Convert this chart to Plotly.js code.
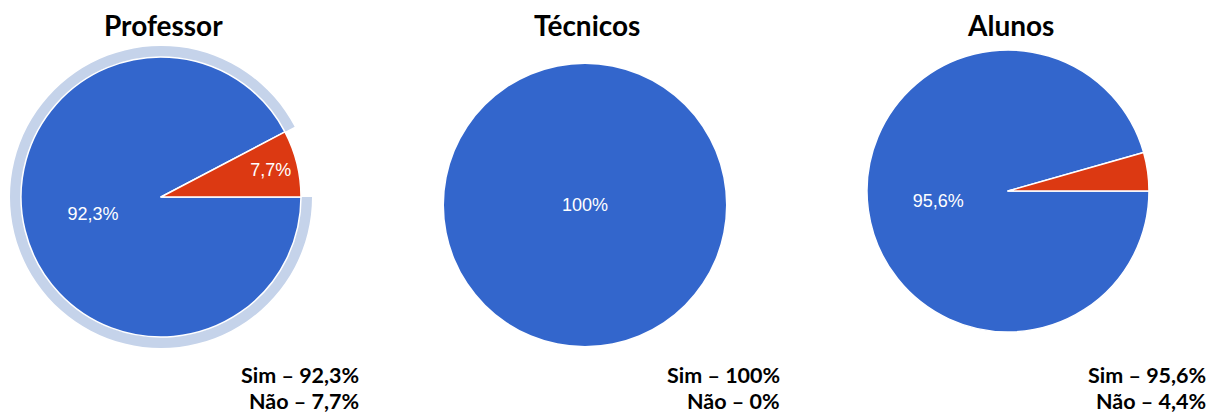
<!DOCTYPE html>
<html>
<head>
<meta charset="utf-8">
<script src="https://cdn.plot.ly/plotly-3.0.1.min.js"></script>
<style>
  html, body { margin: 0; padding: 0; background: #ffffff; }
  #chart { width: 1211px; height: 414px; }
</style>
</head>
<body>
<div id="chart"></div>
<script>
// ---- data ----
const groups = ['Professor', 'Técnicos', 'Alunos'];
const categories = ['Sim', 'Não'];
const simPct = [92.3, 100, 95.6];
const naoPct = [7.7, 0, 4.4];
const highlighted = [true, false, false]; // Professor pie shows the hover halo on "Sim"

// ---- helpers ----
const W = 1211, H = 414;
const fmt = v => String(v).replace('.', ',');
const sliceLabel = v => (v >= 5 ? fmt(v) + '%' : '');

// pie geometry in pixels (centre x, centre y, radius)
const pies = [
  { cx: 161, cy: 197, r: 140 },
  { cx: 585, cy: 205, r: 141 },
  { cx: 1008, cy: 191, r: 141 }
];
const titleX = [163.5, 587, 1010];
const summaryRight = [361, 782, 1208];

const BLUE = '#3366cc', RED = '#dc3912', HALO = '#c5d3ea';

function domainOf(p, extra) {
  const r = p.r + (extra || 0);
  return {
    x: [(p.cx - r) / W, (p.cx + r) / W],
    y: [(H - (p.cy + r)) / H, (H - (p.cy - r)) / H]
  };
}

const traces = [];
groups.forEach((g, i) => {
  const vals = [simPct[i], naoPct[i]];
  const hasSplit = vals.every(v => v > 0);
  if (highlighted[i]) {
    traces.push({
      type: 'pie',
      values: vals,
      labels: categories,
      sort: false,
      direction: 'clockwise',
      rotation: 90,
      domain: domainOf(pies[i], 11),
      marker: { colors: [HALO, 'rgba(0,0,0,0)'], line: { width: 0 } },
      textinfo: 'none',
      hoverinfo: 'skip'
    });
  }
  traces.push({
    type: 'pie',
    name: g,
    values: vals,
    labels: categories,
    sort: false,
    direction: 'clockwise',
    rotation: 90,
    domain: domainOf(pies[i], 0),
    marker: { colors: [BLUE, RED], line: { color: '#ffffff', width: hasSplit ? 1.5 : 0 } },
    text: vals.map(sliceLabel),
    textinfo: 'text',
    textposition: 'inside',
    insidetextorientation: 'horizontal',
    insidetextfont: { family: 'Liberation Sans, Arial, sans-serif', size: 18, color: '#ffffff' },
    hoverinfo: 'label+percent'
  });
});

const annotations = [];
groups.forEach((g, i) => {
  annotations.push({
    text: '<b>' + g + '</b>',
    xref: 'paper', yref: 'paper',
    x: titleX[i] / W, y: 1 - 25 / H,
    xanchor: 'center', yanchor: 'middle',
    showarrow: false,
    font: { family: 'Lato, sans-serif', size: 28, color: '#000000' }
  });
  annotations.push({
    text: '<b>' + categories[0] + ' – ' + fmt(simPct[i]) + '%</b>',
    xref: 'paper', yref: 'paper',
    x: summaryRight[i] / W, y: 1 - 375 / H,
    xanchor: 'right', yanchor: 'middle', align: 'right',
    showarrow: false,
    font: { family: 'Lato, sans-serif', size: 21.5, color: '#000000' }
  });
  annotations.push({
    text: '<b>' + categories[1] + ' – ' + fmt(naoPct[i]) + '%</b>',
    xref: 'paper', yref: 'paper',
    x: summaryRight[i] / W, y: 1 - 401 / H,
    xanchor: 'right', yanchor: 'middle', align: 'right',
    showarrow: false,
    font: { family: 'Lato, sans-serif', size: 21.5, color: '#000000' }
  });
});

const layout = {
  width: W, height: H,
  margin: { l: 0, r: 0, t: 0, b: 0, pad: 0 },
  paper_bgcolor: '#ffffff',
  plot_bgcolor: '#ffffff',
  showlegend: false,
  annotations: annotations
};

Plotly.newPlot('chart', traces, layout, { displayModeBar: false, staticPlot: true });
</script>
</body>
</html>
